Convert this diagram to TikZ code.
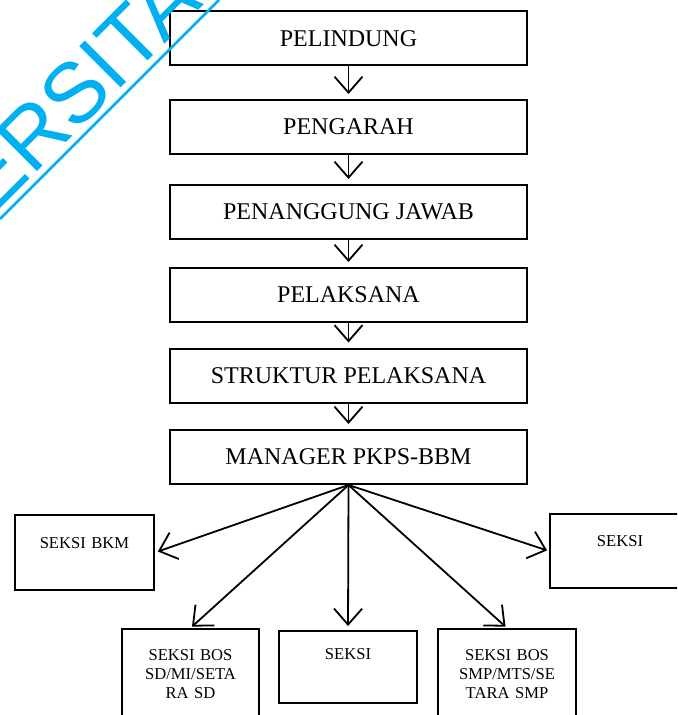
\documentclass[tikz,border=0pt]{standalone}
\usepackage{fontspec}
\setmainfont{Liberation Serif}
\newfontfamily\wmfont{Liberation Sans}
\usetikzlibrary{arrows.meta}
\definecolor{wmcyan}{RGB}{0,176,240}
\tikzset{
  kotak/.style={draw, line width=1pt, minimum width=178.5pt, minimum height=27pt,
    inner sep=0pt, font=\fontsize{12}{14}\selectfont},
  seksi/.style={draw, line width=1pt, inner sep=0pt, align=center, anchor=north,
    font=\fontsize{8.3}{9.5}\selectfont},
  panah/.style={-{Straight Barb[length=8pt,width=14pt]}, line width=.9pt, shorten >=2.5pt},
}

\begin{document}
\begin{tikzpicture}[x=0.5pt, y=-0.5pt]
    % Frame
    \useasboundingbox (0,0) rectangle (677,715);
    \clip (0,0) rectangle (677,715);

    % Main chain
    \node[kotak] (pelindung) at (348.5,38.5) {PELINDUNG};
    \node[kotak] (pengarah) at (348.5,127) {PENGARAH};
    \node[kotak] (pj) at (348.5,212) {PENANGGUNG JAWAB};
    \node[kotak] (pelaksana) at (348.5,295) {PELAKSANA};
    \node[kotak] (struktur) at (348.5,375.5) {STRUKTUR PELAKSANA};
    \node[kotak] (manager) at (348.5,457) {MANAGER PKPS-BBM};

    % Sections
    \node[seksi, text width=69.5pt, text height=16.9pt, text depth=20.6pt] (bkm) at (84.5,514) {SEKSI BKM};
    \node[seksi, text width=70pt, text height=16.4pt, text depth=20.6pt] (seksiB) at (620,513) {SEKSI};
    \node[seksi, text width=68.5pt, text height=15.9pt, text depth=45pt] (bosSD) at (190.5,628) {SEKSI BOS\\SD/MI/SETA\\RA SD};
    \node[seksi, text width=69pt, text height=14.4pt, text depth=21.6pt] (seksiA) at (348,630) {SEKSI};
    \node[seksi, text width=69pt, text height=15.9pt, text depth=45pt] (bosSMP) at (507,628) {SEKSI BOS\\SMP/MTS/SE\\TARA SMP};

    % Arrows
    \draw[panah] (pelindung) -- (pengarah);
    \draw[panah] (pengarah) -- (pj);
    \draw[panah] (pj) -- (pelaksana);
    \draw[panah] (pelaksana) -- (struktur);
    \draw[panah] (struktur) -- (manager);
    \draw[panah, shorten >=1.5pt] (manager.south) -- (bkm.east);
    \draw[panah, shorten >=1pt] (manager.south) -- (bosSD.north);
    \draw[panah, shorten >=2pt] (manager.south) -- (seksiA.north);
    \draw[panah, shorten >=1pt] (manager.south) -- (bosSMP.north);
    \draw[panah, shorten >=1pt] (manager.south) -- (seksiB.west);

    % Watermark
    \node[wmcyan, font=\wmfont\fontsize{42.5}{42.5}\selectfont, rotate=45,
      anchor=base west, inner sep=0pt] (wm) at (-8,217) {ERSITA};
    \draw[wmcyan, line width=1.3pt] (0,219) -- (219,0);
\end{tikzpicture}
\end{document}
